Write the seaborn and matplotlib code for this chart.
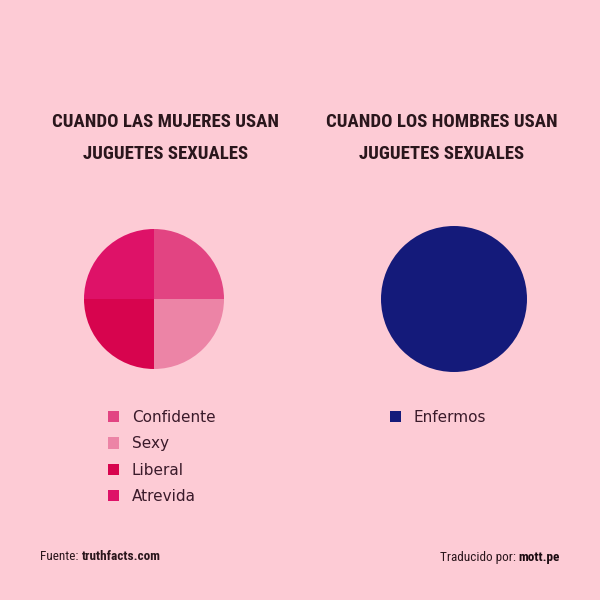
import matplotlib
matplotlib.use("Agg")
import matplotlib.pyplot as plt
import seaborn as sns
from matplotlib.patches import Patch
from matplotlib import font_manager as fm

# ---- data ----
left_title = "CUANDO LAS MUJERES USAN\nJUGUETES SEXUALES"
right_title = "CUANDO LOS HOMBRES USAN\nJUGUETES SEXUALES"
left_labels = ["Confidente", "Sexy", "Liberal", "Atrevida"]
left_values = [25, 25, 25, 25]
left_colors = ["#E24482", "#EC84A6", "#D7044E", "#DE1268"]
right_labels = ["Enfermos"]
right_values = [100]
right_colors = ["#141A7A"]
source_label = "Fuente: "
source_value = "truthfacts.com"
credit_label = "Traducido por: "
credit_value = "mott.pe"

BG = "#FDCBD5"
TXT = "#2A161C"

sns.set_theme(style="white", rc={"figure.facecolor": BG, "axes.facecolor": BG,
                                 "savefig.facecolor": BG})
plt.rcParams["font.family"] = ["DejaVu Sans"]

names = {f.name for f in fm.fontManager.ttflist}
narrow = [n for n in ["Roboto Condensed", "Liberation Sans Narrow", "Roboto"] if n in names]
TITLE_FONT = narrow + ["DejaVu Sans"]

fig = plt.figure(figsize=(6, 6), dpi=100)

ax1 = fig.add_axes([84/600, 1 - 369/600, 140/600, 140/600])
ax2 = fig.add_axes([381/600, 1 - 372/600, 146/600, 146/600])

ax1.pie(left_values, colors=left_colors, startangle=90, counterclock=False,
        wedgeprops=dict(linewidth=0))
ax2.pie(right_values, colors=right_colors, startangle=90, counterclock=False,
        wedgeprops=dict(linewidth=0))
for ax in (ax1, ax2):
    ax.set_xlim(-1, 1)
    ax.set_ylim(-1, 1)
    ax.set_aspect("equal")
    ax.axis("off")

# titles
fig.text(166/600, 1 - 138/600, left_title, ha="center", va="center", fontsize=13.5,
         fontweight="bold", family=TITLE_FONT, color=TXT, linespacing=2.05)
fig.text(442/600, 1 - 138/600, right_title, ha="center", va="center", fontsize=13.5,
         fontweight="bold", family=TITLE_FONT, color=TXT, linespacing=2.05)

# legends
leg_kw = dict(frameon=False, handlelength=0.75, handleheight=0.75, handletextpad=0.8,
              labelspacing=0.74, borderaxespad=0, borderpad=0,
              prop={"size": 11, "family": "DejaVu Sans"}, labelcolor="#3A1A2A")
h1 = [Patch(facecolor=c, edgecolor="none", label=l) for c, l in zip(left_colors, left_labels)]
fig.legend(handles=h1, loc="upper left", bbox_to_anchor=(108/600, 1 - 410/600), **leg_kw)
h2 = [Patch(facecolor=c, edgecolor="none", label=l) for c, l in zip(right_colors, right_labels)]
fig.legend(handles=h2, loc="upper left", bbox_to_anchor=(390/600, 1 - 410/600), **leg_kw)

# footer
FS = 9.5
t1 = fig.text(40/600, 1 - 557/600, source_label, ha="left", va="center", fontsize=FS,
              family=TITLE_FONT, color=TXT)
ax1.annotate(source_value, xy=(1, 0.5), xycoords=t1, ha="left", va="center",
             fontsize=FS, family=TITLE_FONT, fontweight="bold", color=TXT,
             annotation_clip=False)
t2 = fig.text(560/600, 1 - 557/600, credit_value, ha="right", va="center", fontsize=FS,
              family=TITLE_FONT, fontweight="bold", color="#1A0A10")
ax1.annotate(credit_label, xy=(0, 0.5), xycoords=t2, ha="right", va="center",
             fontsize=FS, family=TITLE_FONT, color=TXT, annotation_clip=False)

fig.savefig("out.png", dpi=100, facecolor=BG)
